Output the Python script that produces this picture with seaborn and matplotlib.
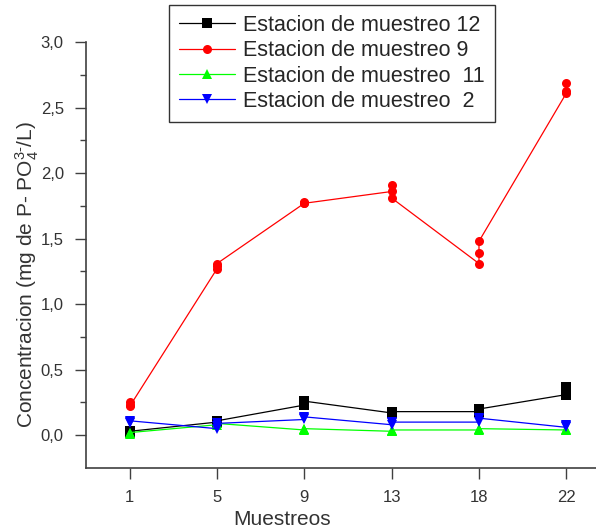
import numpy as np
import pandas as pd
import matplotlib
matplotlib.use("Agg")
import matplotlib.pyplot as plt
from matplotlib.ticker import MultipleLocator, FixedLocator, FuncFormatter
import seaborn as sns

# sampling campaigns (categorical x axis)
muestreos = ["1", "5", "9", "13", "18", "22"]

# replicate concentrations per campaign, mg P-PO4/L
est_12 = [[0.02, 0.02, 0.03], [0.10, 0.11, 0.11], [0.23, 0.25, 0.26],
          [0.17, 0.18, 0.18], [0.18, 0.19, 0.20], [0.31, 0.34, 0.37]]
est_9 = [[0.25, 0.23, 0.22], [1.27, 1.29, 1.31], [1.77, 1.78, 1.77],
         [1.86, 1.91, 1.81], [1.31, 1.39, 1.48], [2.61, 2.63, 2.69]]
est_11 = [[0.01, 0.02, 0.02], [0.08, 0.09, 0.09], [0.04, 0.05, 0.05],
          [0.03, 0.03, 0.04], [0.04, 0.05, 0.05], [0.04, 0.04, 0.05]]
est_2 = [[0.09, 0.10, 0.11], [0.05, 0.07, 0.09], [0.12, 0.13, 0.14],
         [0.08, 0.09, 0.10], [0.10, 0.12, 0.13], [0.06, 0.07, 0.08]]

series = {
    "Estacion de muestreo 12": est_12,
    "Estacion de muestreo 9": est_9,
    "Estacion de muestreo  11": est_11,
    "Estacion de muestreo  2": est_2,
}
colors = ["#000000", "#ff0000", "#00ff00", "#0000ff"]
marks = ["s", "o", "^", "v"]

rows = []
for name, reps in series.items():
    for i, vals in enumerate(reps):
        for v in vals:
            rows.append({"pos": i, "conc": v, "estacion": name})
df = pd.DataFrame(rows)

sns.set_style("ticks")
plt.rcParams["font.family"] = ["Liberation Sans", "DejaVu Sans"]
plt.rcParams["mathtext.fontset"] = "custom"
plt.rcParams["mathtext.rm"] = "Liberation Sans"
plt.rcParams["mathtext.it"] = "Liberation Sans"

fig = plt.figure(figsize=(5.96, 5.31), dpi=100)
ax = fig.add_axes([0.1443, 0.1187, 0.8557, 0.802])

names = list(series.keys())
sns.lineplot(data=df, x="pos", y="conc", hue="estacion", style="estacion",
             hue_order=names, style_order=names,
             palette=dict(zip(names, colors)), markers=dict(zip(names, marks)),
             dashes=False, estimator=None, sort=False, linewidth=0.9,
             markersize=6.5, markeredgewidth=0, ax=ax)

grey = "#404040"
ax.set_xlim(-0.5, 5.34)
ax.set_ylim(-0.25, 3.0)
ax.set_xticks(range(len(muestreos)))
ax.set_xticklabels(muestreos)
ax.yaxis.set_major_locator(MultipleLocator(0.5))
ax.yaxis.set_minor_locator(FixedLocator([0.25, 0.75, 1.25, 1.75, 2.25, 2.75]))
ax.yaxis.set_major_formatter(FuncFormatter(lambda v, p: f"{v:.1f}".replace(".", ",")))
ax.tick_params(axis="both", which="major", length=8, width=1, labelsize=12,
               colors=grey, labelcolor="#333333", pad=8)
ax.tick_params(axis="y", which="minor", length=4, width=1, colors=grey)
for s in ["top", "right"]:
    ax.spines[s].set_visible(False)
for s in ["left", "bottom"]:
    ax.spines[s].set_color(grey)
    ax.spines[s].set_linewidth(1.2)

ax.set_xlabel("Muestreos", fontsize=15, color="#333333")
ax.xaxis.set_label_coords(0.384, -0.098)
ax.set_ylabel(r"Concentracion (mg de P- PO$_4^{3\text{-}}$/L)", fontsize=15,
              color="#333333")
ax.yaxis.set_label_coords(-0.088, 0.455)

handles, labels = ax.get_legend_handles_labels()
ax.get_legend().remove()
leg = fig.legend(handles, labels, loc="upper center",
                 bbox_to_anchor=(0.557, 0.99), fontsize=15.5, frameon=True,
                 fancybox=False, edgecolor="black", handlelength=2.6,
                 handletextpad=0.4, labelspacing=0.2, borderpad=0.45,
                 borderaxespad=0)
leg.get_frame().set_linewidth(1)

fig.savefig("out.png", dpi=100)
